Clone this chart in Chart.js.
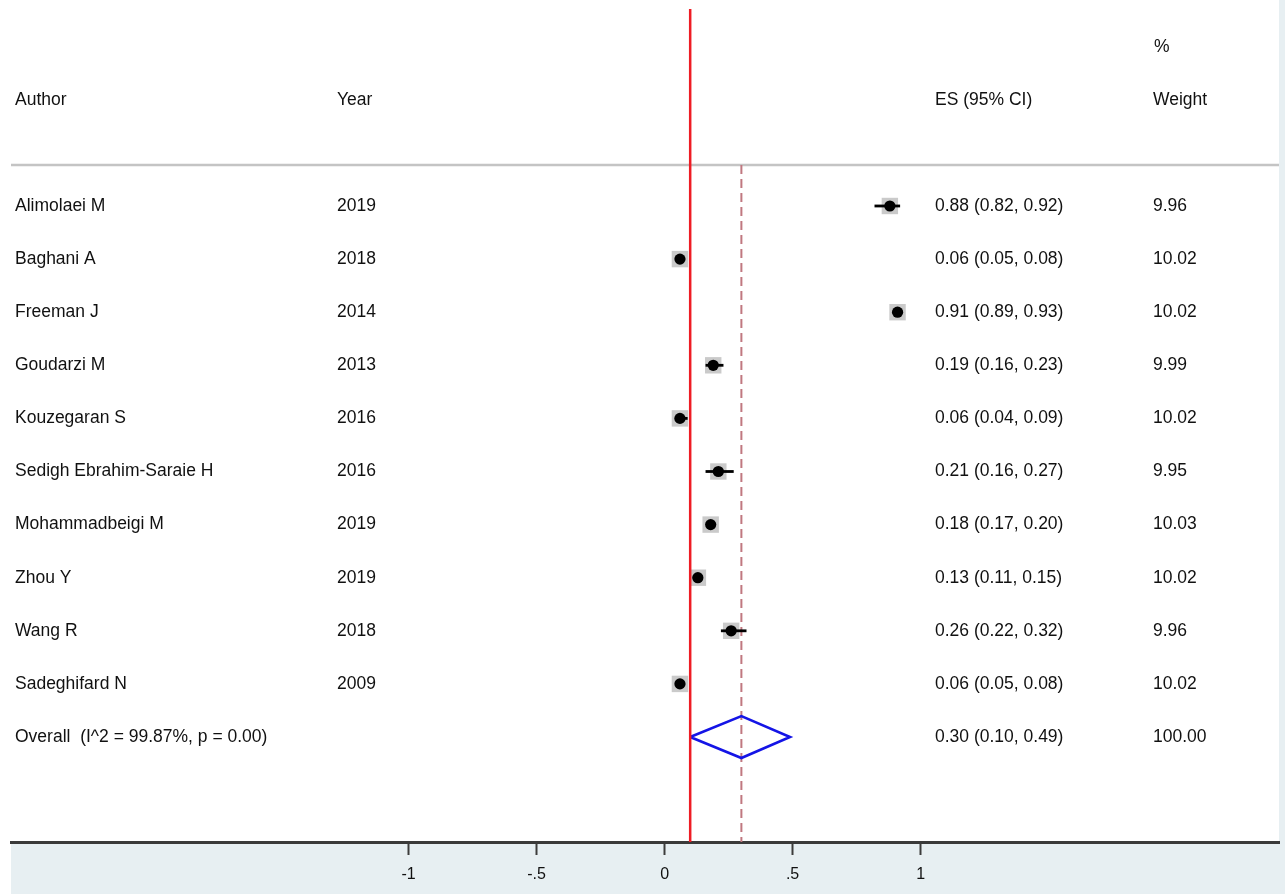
<!DOCTYPE html>
<html>
<head>
<meta charset="utf-8">
<script src="https://cdn.jsdelivr.net/npm/chart.js@4.4.1/dist/chart.umd.min.js"></script>
<style>
  html, body { margin: 0; padding: 0; background: #ffffff; }
  canvas { display: block; }
</style>
</head>
<body>
<canvas id="forest" width="1285" height="894"></canvas>
<script>
// Study-level proportions with 95% confidence limits and random-effects weights
const authors = [
  'Alimolaei M', 'Baghani A', 'Freeman J', 'Goudarzi M', 'Kouzegaran S',
  'Sedigh Ebrahim-Saraie H', 'Mohammadbeigi M', 'Zhou Y', 'Wang R', 'Sadeghifard N'
];
const years   = [2019, 2018, 2014, 2013, 2016, 2016, 2019, 2019, 2018, 2009];
const es      = [0.88, 0.06, 0.91, 0.19, 0.06, 0.21, 0.18, 0.13, 0.26, 0.06];
const ciLow   = [0.82, 0.05, 0.89, 0.16, 0.04, 0.16, 0.17, 0.11, 0.22, 0.05];
const ciHigh  = [0.92, 0.08, 0.93, 0.23, 0.09, 0.27, 0.20, 0.15, 0.32, 0.08];
const weights = [9.96, 10.02, 10.02, 9.99, 10.02, 9.95, 10.03, 10.02, 9.96, 10.02];

// Pooled estimate
const overallLabel  = 'Overall  (I^2 = 99.87%, p = 0.00)';
const overallES     = 0.30;
const overallLow    = 0.10;
const overallHigh   = 0.49;
const overallWeight = 100.00;

// Solid reference line
const refLine = 0.10;

// Axis ticks
const tickValues = [-1, -0.5, 0, 0.5, 1];
const tickLabels = ['-1', '-.5', '0', '.5', '1'];

// Column headers
const headerAuthor = 'Author';
const headerYear   = 'Year';
const headerES     = 'ES (95% CI)';
const headerPct    = '%';
const headerWeight = 'Weight';

// ---- layout (row coordinates on the hidden vertical scale) ----
const nRows      = authors.length;
const overallRow = nRows;
const yTop       = -3.879;
const yBottom    = 11.977;
const headerRow  = -2;
const pctRow     = -3;
const sepRow     = -0.772;
const refTopRow  = -3.71;
const xMin = -2.553, xMax = 2.400;

const fontFamily = '"Liberation Sans", Arial, Helvetica, sans-serif';
const textColor  = '#111111';
const bandColor  = '#e7eff2';

const fmt = v => v.toFixed(2);

// one horizontal segment per study for the confidence interval
const ciDatasets = authors.map((a, i) => ({
  label: 'CI ' + a,
  data: [{ x: ciLow[i], y: i }, { x: ciHigh[i], y: i }],
  showLine: true,
  borderColor: '#000000',
  borderWidth: 2.8,
  pointRadius: 0,
  order: 2
}));

const boxDataset = {
  label: 'weight boxes',
  data: es.map((v, i) => ({ x: v, y: i })),
  pointStyle: 'rect',
  pointRadius: weights.map(w => 11.6 * Math.sqrt(w / 10)),
  backgroundColor: 'rgba(150,150,150,0.5)',
  borderWidth: 0,
  order: 3
};

const pointDataset = {
  label: 'estimates',
  data: es.map((v, i) => ({ x: v, y: i })),
  pointStyle: 'circle',
  pointRadius: 5.6,
  backgroundColor: '#000000',
  borderWidth: 0,
  order: 1
};

const diamondHalf = 0.395;
const diamondDataset = {
  label: 'overall',
  data: [
    { x: overallLow,  y: overallRow },
    { x: overallES,   y: overallRow - diamondHalf },
    { x: overallHigh, y: overallRow },
    { x: overallES,   y: overallRow + diamondHalf },
    { x: overallLow,  y: overallRow }
  ],
  showLine: true,
  borderColor: '#1414e6',
  borderWidth: 2.6,
  pointRadius: 0,
  tension: 0,
  order: 1
};

const refDataset = {
  label: 'reference',
  data: [{ x: refLine, y: refTopRow }, { x: refLine, y: yBottom }],
  showLine: true,
  borderColor: '#ee1c24',
  borderWidth: 2.5,
  pointRadius: 0,
  order: 0
};

const pooledLineDataset = {
  label: 'pooled',
  data: [{ x: overallES, y: sepRow }, { x: overallES, y: yBottom }],
  showLine: true,
  borderColor: '#c07880',
  borderWidth: 2,
  borderDash: [9, 5],
  pointRadius: 0,
  order: 4
};

const separatorDataset = {
  label: 'separator',
  data: [{ x: xMin, y: sepRow }, { x: xMax, y: sepRow }],
  showLine: true,
  borderColor: '#c4c4c4',
  borderWidth: 2.5,
  pointRadius: 0,
  order: 5
};

// background: white canvas with the tinted strip on the right and below the axis
const backgroundPlugin = {
  id: 'forestBackground',
  beforeDraw(chart) {
    const { ctx, chartArea, width, height } = chart;
    ctx.save();
    ctx.fillStyle = '#ffffff';
    ctx.fillRect(0, 0, width, height);
    ctx.fillStyle = bandColor;
    ctx.fillRect(chartArea.right, 0, width - chartArea.right, height);
    ctx.fillRect(chartArea.left, chartArea.bottom, width - chartArea.left, height - chartArea.bottom);
    ctx.restore();
  }
};

// text columns: author, year, estimate with CI, weight
const tablePlugin = {
  id: 'forestTable',
  afterDraw(chart) {
    const { ctx } = chart;
    const y = chart.scales.y;
    const colAuthor = 15, colYear = 337, colES = 935, colW = 1153;
    ctx.save();
    ctx.fillStyle = textColor;
    ctx.font = '17.5px ' + fontFamily;
    ctx.textBaseline = 'middle';
    ctx.textAlign = 'left';

    const hy = y.getPixelForValue(headerRow);
    ctx.fillText(headerAuthor, colAuthor, hy);
    ctx.fillText(headerYear, colYear, hy);
    ctx.fillText(headerES, colES, hy);
    ctx.fillText(headerWeight, colW, hy);
    ctx.fillText(headerPct, colW + 1, y.getPixelForValue(pctRow));

    authors.forEach((a, i) => {
      const py = y.getPixelForValue(i);
      ctx.fillText(a, colAuthor, py);
      ctx.fillText(String(years[i]), colYear, py);
      ctx.fillText(fmt(es[i]) + ' (' + fmt(ciLow[i]) + ', ' + fmt(ciHigh[i]) + ')', colES, py);
      ctx.fillText(fmt(weights[i]), colW, py);
    });

    const oy = y.getPixelForValue(overallRow);
    ctx.fillText(overallLabel, colAuthor, oy);
    ctx.fillText(fmt(overallES) + ' (' + fmt(overallLow) + ', ' + fmt(overallHigh) + ')', colES, oy);
    ctx.fillText(fmt(overallWeight), colW, oy);
    ctx.restore();
  }
};

new Chart(document.getElementById('forest'), {
  type: 'scatter',
  data: {
    datasets: [
      pointDataset, diamondDataset, refDataset,
      ...ciDatasets,
      boxDataset, pooledLineDataset, separatorDataset
    ]
  },
  options: {
    responsive: false,
    animation: false,
    devicePixelRatio: 1,
    layout: { autoPadding: false, padding: { left: 11, right: 6, top: 0, bottom: 0 } },
    plugins: {
      legend: { display: false },
      tooltip: { enabled: false }
    },
    scales: {
      x: {
        type: 'linear',
        position: 'bottom',
        min: xMin,
        max: xMax,
        afterBuildTicks(scale) {
          scale.ticks = tickValues.map(v => ({ value: v }));
        },
        afterFit(scale) {
          scale.height = 52;
        },
        ticks: {
          autoSkip: false,
          maxRotation: 0,
          padding: 10,
          color: textColor,
          font: { family: fontFamily, size: 16 },
          callback(value) {
            const k = tickValues.indexOf(value);
            return k >= 0 ? tickLabels[k] : '';
          }
        },
        grid: {
          display: true,
          drawOnChartArea: false,
          drawTicks: true,
          tickLength: 13,
          tickColor: '#3c3c3c',
          tickWidth: 2
        },
        border: { display: true, color: '#3a3a3a', width: 3 }
      },
      y: {
        type: 'linear',
        display: false,
        reverse: true,
        min: yTop,
        max: yBottom
      }
    }
  },
  plugins: [backgroundPlugin, tablePlugin]
});
</script>
</body>
</html>
